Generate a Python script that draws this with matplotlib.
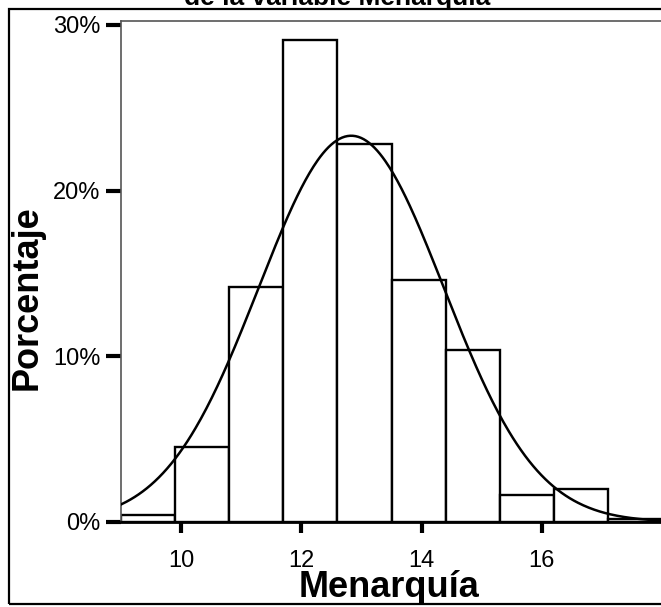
import numpy as np
import matplotlib
matplotlib.use("Agg")
import matplotlib.pyplot as plt
from matplotlib.patches import Rectangle

# ---- data ----
bin_edges = [9.0, 9.9, 10.8, 11.7, 12.6, 13.5, 14.4, 15.3, 16.2, 17.1, 18.0]
percentages = [0.4, 4.5, 14.2, 29.1, 22.8, 14.6, 10.4, 1.6, 2.0, 0.2]
curve_mean = 12.83
curve_sd = 1.54
x_ticks = [10, 12, 14, 16]
x_tick_labels = ["10", "12", "14", "16"]
y_ticks = [0, 10, 20, 30]
y_tick_labels = ["0%", "10%", "20%", "30%"]
title_text = "de la variable Menarquia"
x_label = "Menarquía"
y_label = "Porcentaje"

W, H = 661, 607
fig = plt.figure(figsize=(W / 100, H / 100), dpi=100)
plt.rcParams['font.family'] = ['Liberation Sans', 'DejaVu Sans']

def fx(px):
    return px / W

def fy(py):
    return 1 - py / H

# figure border
fig.patches.append(Rectangle((fx(9), fy(604)), fx(700) - fx(9), fy(9) - fy(604),
                             transform=fig.transFigure, fill=False,
                             edgecolor='black', linewidth=1.6))

ax = fig.add_axes([fx(121), fy(522), fx(662) - fx(121), fy(21) - fy(522)])

widths = np.diff(bin_edges)
ax.bar(bin_edges[:-1], percentages, width=widths, align='edge',
       facecolor='white', edgecolor='black', linewidth=1.7, zorder=2)

xs = np.linspace(bin_edges[0], bin_edges[-1], 400)
bw = widths.mean()
ys = 100 * bw / (curve_sd * np.sqrt(2 * np.pi)) * np.exp(-0.5 * ((xs - curve_mean) / curve_sd) ** 2)
ax.plot(xs, ys, color='black', linewidth=1.8, zorder=3)

ax.set_xlim(bin_edges[0], bin_edges[-1])
ax.set_ylim(0, 30.24)

ax.set_xticks(x_ticks)
ax.set_xticklabels(x_tick_labels, fontsize=17)
ax.set_yticks(y_ticks)
ax.set_yticklabels(y_tick_labels, fontsize=17)
ax.tick_params(axis='x', length=8, width=3, direction='out', pad=12)
ax.tick_params(axis='y', length=11, width=3, direction='out', pad=4)

ax.spines['right'].set_visible(False)
ax.spines['left'].set_color('#555555')
ax.spines['left'].set_linewidth(1.2)
ax.spines['top'].set_color('#555555')
ax.spines['top'].set_linewidth(1.2)
ax.spines['bottom'].set_color('black')
ax.spines['bottom'].set_linewidth(2)

fig.text(fx(389), fy(597), x_label, ha='center', va='baseline',
         fontsize=26, fontweight='bold')
fig.text(fx(27), fy(298), y_label, ha='center', va='center', rotation=90,
         fontsize=26, fontweight='bold')
fig.text(fx(337), fy(5), title_text, ha='center', va='baseline',
         fontsize=19, fontweight='bold')

fig.savefig("out.png", dpi=100)
